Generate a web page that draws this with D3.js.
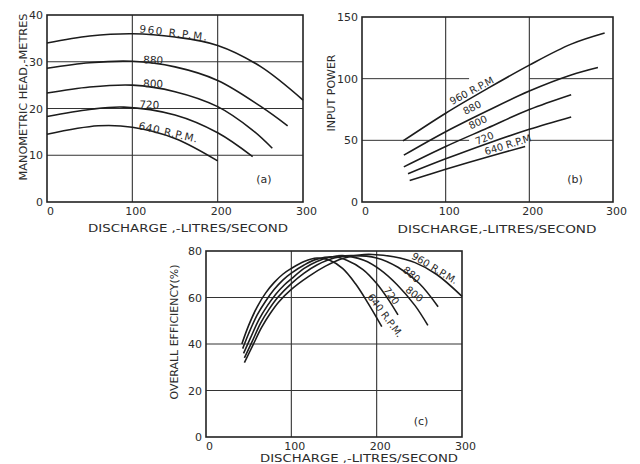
<!DOCTYPE html>
<html>
<head>
<meta charset="utf-8">
<script src="https://cdn.jsdelivr.net/npm/d3@7"></script>
<style>
body { margin: 0; background: #fff; }
svg text { font-family: "DejaVu Sans", sans-serif; fill: #2b2b2b; }
</style>
</head>
<body>
<svg id="chart" width="640" height="464"></svg>
<script>
var speeds = ["960", "880", "800", "720", "640"];
var dischargeTicks = [0, 100, 200, 300];
var headTicks = [0, 10, 20, 30, 40];
var powerTicks = [0, 50, 100, 150];
var effTicks = [0, 20, 40, 60, 80];

// (a) manometric head, [discharge l/s, head m]
var head960 = [[0, 34], [50, 35.5], [100, 36], [150, 35.3], [200, 33.5], [250, 29], [300, 21.8]];
var head880 = [[0, 28.6], [50, 29.8], [100, 30.1], [150, 28.9], [200, 26], [250, 20.5], [282, 16.3]];
var head800 = [[0, 23.3], [50, 24.6], [100, 25], [150, 23.6], [200, 20.4], [240, 15.5], [264, 11.5]];
var head720 = [[0, 18.3], [50, 19.8], [90, 20.3], [150, 18.6], [200, 14.8], [241, 9.7]];
var head640 = [[0, 14.5], [60, 16.3], [100, 16], [150, 13.6], [200, 8.8]];

// (b) input power
var power960 = [[49, 49.5], [100, 72], [150, 92], [200, 111], [250, 128], [290, 137]];
var power880 = [[50, 38], [100, 57], [150, 74], [200, 90], [250, 103], [282, 109]];
var power800 = [[50, 28.5], [100, 45], [150, 60], [200, 75], [250, 87]];
var power720 = [[55, 23], [100, 35], [150, 47.5], [200, 59], [250, 69]];
var power640 = [[57, 17.5], [100, 26.5], [150, 36.5], [195, 45]];

// (c) overall efficiency %
var eff960 = [[45, 32], [55, 39.5], [65, 47], [75, 53], [85, 58], [100, 63.5], [120, 69], [140, 73.5], [160, 76.8], [180, 78.3], [195, 78.5], [220, 77.5], [245, 75], [270, 70], [300, 60.5]];
var eff880 = [[45, 34], [54, 41], [64, 49], [74, 55], [84, 60], [100, 66], [115, 70.5], [130, 74], [150, 77], [170, 78], [200, 77], [225, 73], [250, 66], [272, 56]];
var eff800 = [[44, 36], [52, 42.5], [62, 50.5], [72, 56.5], [82, 61.5], [92, 65.5], [100, 68], [115, 72.5], [130, 75.5], [145, 77.3], [160, 78], [185, 76], [204, 72], [224, 65.5], [245, 56.5], [260, 48]];
var eff720 = [[43, 38], [50, 44.5], [60, 52.5], [70, 58.5], [80, 63.5], [90, 67.5], [100, 70.5], [115, 74], [130, 76.5], [150, 77.5], [165, 76], [184, 72], [200, 66], [213, 59.5], [225, 52.5]];
var eff640 = [[42, 40], [50, 48], [60, 56], [70, 62], [80, 66.5], [90, 70], [100, 72.5], [115, 75.5], [130, 77], [145, 76], [160, 72.5], [175, 66], [190, 57.5], [206, 47.5]];

var svg = d3.select("#chart");

function drawPanel(cfg) {
    var x = d3.scaleLinear().domain([0, 300]).range([cfg.left, cfg.right]);
    var y = d3.scaleLinear().domain([0, cfg.yMax]).range([cfg.bottom, cfg.top]);
    var g = svg.append("g");

    // grid (panel b has its horizontal lines broken behind the labels)
    var inner = cfg.yTicks.slice(1, -1);
    inner.forEach(function(v) {
        var segs = cfg.gap ? [[0, cfg.gap[0]], [cfg.gap[1], 300]] : [[0, 300]];
        segs.forEach(function(s) {
            g.append("line")
                .attr("x1", x(s[0])).attr("x2", x(s[1]))
                .attr("y1", y(v)).attr("y2", y(v))
                .attr("stroke", "#333").attr("stroke-width", 1);
        });
    });
    [100, 200].forEach(function(v) {
        g.append("line")
            .attr("x1", x(v)).attr("x2", x(v))
            .attr("y1", y(0)).attr("y2", y(cfg.yMax))
            .attr("stroke", "#333").attr("stroke-width", 1.1);
    });
    g.append("rect")
        .attr("x", x(0)).attr("y", y(cfg.yMax))
        .attr("width", x(300) - x(0)).attr("height", y(0) - y(cfg.yMax))
        .attr("fill", "none").attr("stroke", "#222").attr("stroke-width", 1.6);

    // axes
    var xa = g.append("g")
        .attr("transform", "translate(3," + y(0) + ")")
        .call(d3.axisBottom(x).tickValues(dischargeTicks).tickSize(0).tickPadding(5));
    var ya = g.append("g")
        .attr("transform", "translate(" + x(0) + ",0)")
        .call(d3.axisLeft(y).tickValues(cfg.yTicks).tickSize(0).tickPadding(4));
    [xa, ya].forEach(function(a) {
        a.select(".domain").remove();
        a.attr("font-family", null).attr("font-size", 11);
    });

    // curves
    var line = d3.line()
        .x(function(d) { return x(d[0]); })
        .y(function(d) { return y(d[1]); })
        .curve(d3.curveCatmullRom.alpha(0.5));
    g.selectAll("path.curve")
        .data(cfg.curves)
        .enter()
        .append("path")
        .attr("class", "curve")
        .attr("d", line)
        .attr("fill", "none")
        .attr("stroke", "#1c1c1c")
        .attr("stroke-width", 1.6);

    // curve labels
    cfg.labels.forEach(function(l) {
        var t = g.append("text")
            .attr("transform", "translate(" + x(l.q) + "," + y(l.v) + ") rotate(" + l.rot + ")")
            .attr("font-size", l.size || 10.5)
            .text(l.text);
        if (l.len) t.attr("textLength", l.len).attr("lengthAdjust", "spacing");
    });

    g.append("text")
        .attr("x", cfg.tag[0]).attr("y", cfg.tag[1])
        .attr("text-anchor", "middle").attr("font-size", 11)
        .text(cfg.tagText);

    g.append("text")
        .attr("x", cfg.xTitle[0]).attr("y", cfg.xTitle[1])
        .attr("text-anchor", "middle").attr("font-size", 11)
        .attr("textLength", cfg.xTitle[2]).attr("lengthAdjust", "spacingAndGlyphs")
        .text(cfg.xTitleText);

    g.append("text")
        .attr("transform", "translate(" + cfg.yTitle[0] + "," + cfg.yTitle[1] + ") rotate(-90)")
        .attr("text-anchor", "middle").attr("font-size", 11)
        .attr("textLength", cfg.yTitle[2]).attr("lengthAdjust", "spacingAndGlyphs")
        .text(cfg.yTitleText);
}

drawPanel({
    left: 47, right: 303, top: 15, bottom: 202,
    yMax: 40, yTicks: headTicks,
    curves: [head960, head880, head800, head720, head640],
    labels: [
        { text: "960  R.P.M.", q: 107.8, v: 36.3, rot: 7, len: 68 },
        { text: speeds[1], q: 112.5, v: 29.7, rot: 3 },
        { text: speeds[2], q: 112.5, v: 24.6, rot: 2 },
        { text: speeds[3], q: 108, v: 20.1, rot: 2 },
        { text: "640 R.P.M.", q: 106.6, v: 15.6, rot: 13, len: 60 }
    ],
    tag: [264, 183], tagText: "(a)",
    xTitle: [188, 232, 200], xTitleText: "DISCHARGE ,-LITRES/SECOND",
    yTitle: [27, 97, 167], yTitleText: "MANOMETRIC  HEAD,-METRES"
});

drawPanel({
    left: 362, right: 613, top: 17, bottom: 202,
    yMax: 150, yTicks: powerTicks, gap: [128, 200],
    curves: [power960, power880, power800, power720, power640],
    labels: [
        { text: "960 R.P.M", q: 107.6, v: 78.6, rot: -28, size: 10 },
        { text: speeds[1], q: 123.3, v: 70.5, rot: -27, size: 10 },
        { text: speeds[2], q: 130, v: 58.8, rot: -25, size: 10 },
        { text: speeds[3], q: 137.4, v: 46.2, rot: -22, size: 10 },
        { text: "640 R.P.M", q: 148, v: 38, rot: -17, size: 10 }
    ],
    tag: [575, 183], tagText: "(b)",
    xTitle: [497, 233, 199], xTitleText: "DISCHARGE,-LITRES/SECOND",
    yTitle: [335, 93, 77], yTitleText: "INPUT POWER"
});

drawPanel({
    left: 206, right: 462, top: 251, bottom: 437,
    yMax: 80, yTicks: effTicks,
    curves: [eff960, eff880, eff800, eff720, eff640],
    labels: [
        { text: "960 R.P.M.", q: 240, v: 77, rot: 31, size: 10 },
        { text: speeds[1], q: 229.7, v: 71.4, rot: 40, size: 10 },
        { text: speeds[2], q: 233, v: 62.8, rot: 38, size: 10 },
        { text: speeds[3], q: 207.4, v: 63.2, rot: 54, size: 10 },
        { text: "640 R.P.M.", q: 188.7, v: 60.2, rot: 53, size: 10 }
    ],
    tag: [421, 425], tagText: "(c)",
    xTitle: [359, 462, 198], xTitleText: "DISCHARGE ,-LITRES/SECOND",
    yTitle: [178, 332, 135], yTitleText: "OVERALL  EFFICIENCY(%)"
});
</script>
</body>
</html>
